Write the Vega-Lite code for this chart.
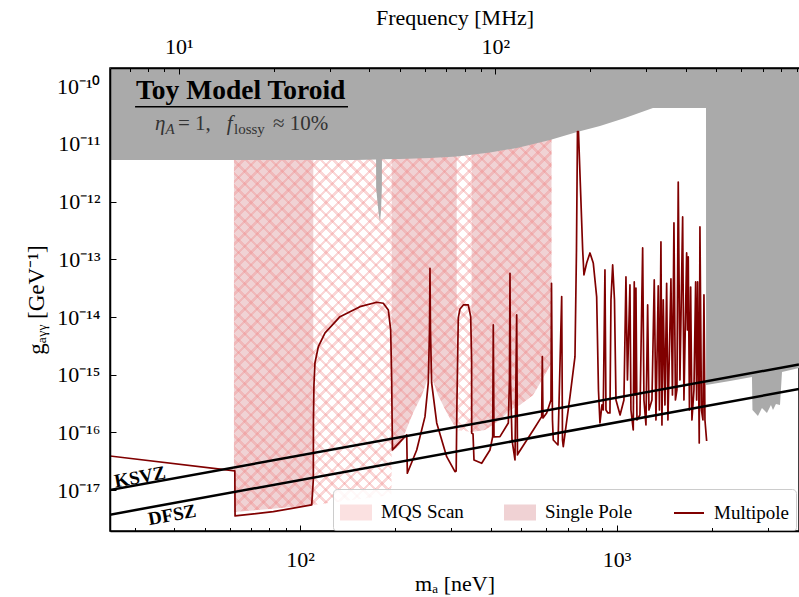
{
  "$schema": "https://vega.github.io/schema/vega-lite/v6.json",
  "width": 689,
  "height": 463,
  "autosize": {"type": "none"},
  "padding": {"left": 110, "top": 68, "right": 0, "bottom": 66},
  "background": "white",
  "config": {
    "view": {"stroke": "black", "strokeWidth": 1.5},
    "font": "Liberation Serif",
    "axis": {"grid": false, "labelFont": "Liberation Serif", "titleFont": "Liberation Serif", "labelColor": "black", "titleColor": "black", "tickColor": "black", "domainColor": "black", "labelFontSize": 22, "titleFontSize": 22, "titleFontWeight": "normal", "tickWidth": 1, "domainWidth": 1.5}
  },
  "datasets": {
    "gray": [{"m":25,"lo":5.28e-12},{"m":149.1,"lo":5.28e-12},{"m":173.8,"lo":5.39e-12},{"m":173.9,"lo":1.73e-12},{"m":176.9,"lo":6.63e-13},{"m":178.8,"lo":4.45e-13},{"m":180.1,"lo":6.63e-13},{"m":181.3,"lo":1.73e-12},{"m":181.4,"lo":5.43e-12},{"m":206.9,"lo":5.5e-12},{"m":257.3,"lo":5.72e-12},{"m":313.1,"lo":6.07e-12},{"m":398.1,"lo":7.12e-12},{"m":484.6,"lo":8.52e-12},{"m":616.1,"lo":1.173e-11},{"m":749.8,"lo":1.615e-11},{"m":886.2,"lo":2.05e-11},{"m":1063,"lo":2.82e-11},{"m":1303,"lo":4.21e-11},{"m":1917,"lo":4.21e-11},{"m":1918,"lo":6.65e-16},{"m":2282,"lo":7.81e-16},{"m":2678,"lo":9.16e-16},{"m":2688,"lo":2.45e-16},{"m":2797,"lo":1.93e-16},{"m":2880,"lo":2.66e-16},{"m":2987,"lo":2.18e-16},{"m":3075,"lo":3.0e-16},{"m":3121,"lo":2.45e-16},{"m":3189,"lo":3.12e-16},{"m":3284,"lo":3.0e-16},{"m":3332,"lo":1.118e-15},{"m":3771,"lo":1.312e-15}],
    "mqs": [{"m":61.8,"lo":4.19e-18},{"m":110.1,"lo":5.54e-18},{"m":194.4,"lo":8.26e-18},{"m":194.7,"lo":4.59e-17},{"m":206.9,"lo":6.07e-17},{"m":227.4,"lo":2.18e-16},{"m":242.7,"lo":4.47e-16},{"m":257.3,"lo":1.118e-15},{"m":272.7,"lo":4.47e-16},{"m":291.2,"lo":2.18e-16},{"m":312.5,"lo":1.105e-16},{"m":348.4,"lo":1.02e-16},{"m":383.9,"lo":1.105e-16},{"m":428.1,"lo":1.647e-16},{"m":460.5,"lo":2.45e-16},{"m":495.3,"lo":3.0e-16},{"m":544.4,"lo":4.47e-16},{"m":581.3,"lo":8.13e-16},{"m":622.9,"lo":1.6e-15}],
    "sp": [{"seg":1,"m":61.8,"lo":4.19e-18},{"seg":1,"m":80.34,"lo":4.72e-18},{"seg":1,"m":110.1,"lo":5.54e-18},
           {"seg":2,"m":194.7,"lo":4.59e-17},{"seg":2,"m":206.9,"lo":6.07e-17},{"seg":2,"m":227.4,"lo":2.18e-16},{"seg":2,"m":242.7,"lo":4.47e-16},{"seg":2,"m":257.3,"lo":1.118e-15},{"seg":2,"m":272.7,"lo":4.47e-16},{"seg":2,"m":291.2,"lo":2.18e-16},{"seg":2,"m":312.5,"lo":1.105e-16},
           {"seg":3,"m":348.4,"lo":1.02e-16},{"seg":3,"m":383.9,"lo":1.105e-16},{"seg":3,"m":428.1,"lo":1.647e-16},{"seg":3,"m":460.5,"lo":2.45e-16},{"seg":3,"m":495.3,"lo":3.0e-16},{"seg":3,"m":544.4,"lo":4.47e-16},{"seg":3,"m":581.3,"lo":8.13e-16},{"seg":3,"m":622.9,"lo":1.6e-15}],
    "multi": [{"m":25.0,"g":3.914e-17},{"m":62.2,"g":2.152e-17},{"m":62.3,"g":3.572e-18},{"m":82.29,"g":4.24e-18},{"m":108.8,"g":5.54e-18},{"m":110.1,"g":1.502e-17},{"m":110.2,"g":1.647e-16},{"m":110.6,"g":6.65e-16},{"m":111.4,"g":1.601e-15},{"m":114.2,"g":3.069e-15},{"m":119.9,"g":5.302e-15},{"m":133.7,"g":1.016e-14},{"m":154.6,"g":1.514e-14},{"m":174.6,"g":1.805e-14},{"m":183.2,"g":1.735e-14},{"m":190.0,"g":1.327e-14},{"m":193.3,"g":5.975e-15},{"m":194.7,"g":8.13e-16},{"m":195.8,"g":4.974e-17},{"m":217.2,"g":9.05e-17},{"m":218.2,"g":1.963e-17},{"m":233.6,"g":4.974e-17},{"m":248.1,"g":1.879e-16},{"m":254.1,"g":7.21e-16},{"m":256.4,"g":5.975e-15},{"m":257.3,"g":7.01e-14},{"m":258.2,"g":5.975e-15},{"m":260.4,"g":7.21e-16},{"m":270.2,"g":1.461e-16},{"m":290.5,"g":3.807e-17},{"m":308.6,"g":2.092e-17},{"m":311.3,"g":2.152e-17},{"m":313.1,"g":3.659e-16},{"m":316.1,"g":9.647e-15},{"m":320.1,"g":1.382e-14},{"m":327.9,"g":1.621e-14},{"m":340.0,"g":1.621e-14},{"m":346.0,"g":1.016e-14},{"m":348.3,"g":1.805e-15},{"m":348.5,"g":9.8e-17},{"m":351.9,"g":9.42e-17},{"m":354.4,"g":3.337e-17},{"m":374.8,"g":2.925e-17},{"m":398.1,"g":4.974e-17},{"m":406.0,"g":8.46e-17},{"m":407.8,"g":7.3e-15},{"m":409.9,"g":8.36e-17},{"m":428.1,"g":8.46e-17},{"m":454.9,"g":1.461e-16},{"m":458.8,"g":8.13e-16},{"m":460.5,"g":5.74e-14},{"m":462.2,"g":8.13e-16},{"m":467.3,"g":7.41e-17},{"m":477.5,"g":3.337e-17},{"m":483.5,"g":1.087e-14},{"m":486.3,"g":4.07e-17},{"m":489.2,"g":4.36e-17},{"m":545.6,"g":1.105e-16},{"m":580.0,"g":1.879e-16},{"m":582.6,"g":2.06e-15},{"m":585.5,"g":1.784e-16},{"m":601.4,"g":2.18e-16},{"m":620.5,"g":3.659e-16},{"m":622.9,"g":3.85e-14},{"m":627.3,"g":1.647e-16},{"m":631.0,"g":7.41e-17},{"m":652.9,"g":6.07e-17},{"m":670.8,"g":2.26e-14},{"m":674.7,"g":7.41e-17},{"m":678.6,"g":5.67e-17},{"m":712.5,"g":4.17e-16},{"m":738.9,"g":2.06e-15},{"m":747.0,"g":1.455e-13},{"m":752.4,"g":1.634e-11},{"m":757.9,"g":1.634e-11},{"m":781.5,"g":1.455e-13},{"m":788.8,"g":5.37e-14},{"m":804.5,"g":8.66e-14},{"m":824.0,"g":1.291e-13},{"m":844.0,"g":8.66e-14},{"m":865.2,"g":2.23e-14},{"m":876.6,"g":5.45e-16},{"m":886.2,"g":1.461e-16},{"m":899.2,"g":3.0e-16},{"m":907.7,"g":2.45e-16},{"m":919.0,"g":6.55e-14},{"m":925.7,"g":2.45e-16},{"m":939.3,"g":2.18e-16},{"m":953.0,"g":2.18e-16},{"m":960.1,"g":1.98e-14},{"m":972.0,"g":8.0e-14},{"m":984.9,"g":1.98e-14},{"m":995.7,"g":3.659e-16},{"m":1025.8,"g":2.01e-16},{"m":1055.0,"g":3.659e-16},{"m":1070.7,"g":4.95e-14},{"m":1082.4,"g":8.13e-16},{"m":1102.3,"g":3.6e-14},{"m":1110.3,"g":2.45e-16},{"m":1129.1,"g":1.105e-16},{"m":1137.3,"g":4.06e-14},{"m":1144.8,"g":4.47e-16},{"m":1151.5,"g":3.19e-14},{"m":1159.9,"g":1.647e-16},{"m":1185.5,"g":2.01e-16},{"m":1209.0,"g":1.576e-13},{"m":1220.5,"g":3.659e-16},{"m":1238.4,"g":1.349e-16},{"m":1253.8,"g":1.621e-14},{"m":1265.7,"g":2.45e-16},{"m":1293.6,"g":3.659e-16},{"m":1315.4,"g":4.4e-14},{"m":1331.8,"g":1.647e-16},{"m":1354.2,"g":3.46e-14},{"m":1366.1,"g":2.45e-16},{"m":1381.1,"g":2.0e-13},{"m":1391.2,"g":1.349e-16},{"m":1404.4,"g":1.98e-14},{"m":1421.9,"g":3.0e-16},{"m":1439.6,"g":3.85e-14},{"m":1453.2,"g":1.647e-16},{"m":1485.3,"g":4.57e-14},{"m":1501.6,"g":4.47e-16},{"m":1518.1,"g":4.27e-13},{"m":1534.7,"g":3.659e-16},{"m":1551.6,"g":5.45e-16},{"m":1566.3,"g":2.19e-12},{"m":1585.8,"g":8.13e-16},{"m":1617.3,"g":5.43e-13},{"m":1632.7,"g":3.659e-16},{"m":1665.1,"g":1.291e-13},{"m":1674.8,"g":5.98e-15},{"m":1684.5,"g":1.1e-13},{"m":1699.3,"g":2.45e-16},{"m":1714.2,"g":3.32e-14},{"m":1730.5,"g":1.647e-16},{"m":1755.9,"g":5.45e-16},{"m":1777.8,"g":4.06e-14},{"m":1790.7,"g":3.659e-16},{"m":1803.8,"g":4.06e-14},{"m":1824.9,"g":6.58e-17},{"m":1834.2,"g":3.64e-13},{"m":1854.4,"g":2.45e-16},{"m":1874.7,"g":1.647e-16},{"m":1888.4,"g":2.42e-14},{"m":1902.2,"g":1.647e-16},{"m":1925.9,"g":7.12e-17}],
    "axion": [{"model":"KSVZ","m":25,"g":1.0e-17},{"model":"KSVZ","m":3771,"g":1.508e-15},{"model":"DFSZ","m":25,"g":3.75e-18},{"model":"DFSZ","m":3771,"g":5.65e-16}],
    "lbl": [{"t":"KSVZ","m":31.2,"g":1.69e-17},{"t":"DFSZ","m":39.4,"g":3.72e-18}],
    "uline": [{"m":30.1,"m2":141.7,"g":4.43e-11}],
    "ann": [{"kind":"title","m":30.3,"g":6.03e-11,"t":"Toy Model Toroid"},{"kind":"it","m":34.79,"g":1.748e-11,"t":"η"},{"kind":"subit","m":37.56,"g":1.49e-11,"t":"A"},{"kind":"rm","m":41.14,"g":1.748e-11,"t":"= 1,"},{"kind":"it","m":58.63,"g":1.748e-11,"t":"f"},{"kind":"subrm","m":61.82,"g":1.49e-11,"t":"lossy"},{"kind":"rm","m":82.11,"g":1.748e-11,"t":"≈ 10%"}]
  },
  "layer": [
    {
      "data": {"name": "sp"},
      "mark": {"type": "area", "clip": true, "opacity": 1},
      "encoding": {
        "x": {"field": "m", "type": "quantitative", "scale": {"type": "log", "domain": [25.08, 3771], "nice": false},
              "axis": {"orient": "top", "values": [41.357, 413.57], "labelExpr": "datum.value < 100 ? '10¹' : '10²'", "tickSize": -6, "labelPadding": 16, "domain": true, "title": "Frequency [MHz]", "titleFont": "Liberation Serif", "labelFont": "Liberation Serif", "titlePadding": 6, "zindex": 1}},
        "y": {"field": "lo", "type": "quantitative", "scale": {"type": "log", "domain": [1.96e-18, 2.07e-10], "nice": false}, "axis": null},
        "y2": {"datum": 2.07e-10},
        "detail": {"field": "seg", "type": "nominal"},
        "color": {"datum": "Single Pole", "type": "nominal",
                  "scale": {"domain": ["MQS Scan", "Single Pole", "Multipole"], "range": ["#fbe1e1", "#f0d2d4", "#800000"]},
                  "legend": {
                    "title": null, "orient": "none", "legendX": 223, "legendY": 421, "direction": "horizontal", "columns": 3,
                    "columnPadding": 37, "padding": 7, "fillColor": "rgba(255,255,255,0.85)", "strokeColor": "#cccccc", "cornerRadius": 4,
                    "symbolType": {"expr": "datum.value === 'Multipole' ? 'M-1,0H1' : 'M-1,-0.47H1V0.47H-1Z'"},
                    "symbolSize": 900, "symbolOpacity": 1, "symbolStrokeWidth": 2,
                    "labelFont": "Liberation Serif", "labelFontSize": 19, "labelColor": "black", "labelOffset": 9
                  }}
      }
    },
    {
      "data": {"name": "mqs"},
      "mark": {"type": "area", "clip": true, "opacity": 1, "fill": {"gradient": "linear", "x1": 0, "y1": 0, "x2": 0.8119, "y2": 1.1347, "stops": [
        {"offset":0,"color":"rgba(240,130,130,0.32)"},{"offset":0.0048,"color":"rgba(240,130,130,0.32)"},{"offset":0.0048,"color":"rgba(240,130,130,0)"},{"offset":0.0164,"color":"rgba(240,130,130,0)"},
        {"offset":0.0164,"color":"rgba(240,130,130,0.32)"},{"offset":0.0212,"color":"rgba(240,130,130,0.32)"},{"offset":0.0212,"color":"rgba(240,130,130,0)"},{"offset":0.0328,"color":"rgba(240,130,130,0)"},
        {"offset":0.0328,"color":"rgba(240,130,130,0.32)"},{"offset":0.0376,"color":"rgba(240,130,130,0.32)"},{"offset":0.0376,"color":"rgba(240,130,130,0)"},{"offset":0.0492,"color":"rgba(240,130,130,0)"},
        {"offset":0.0492,"color":"rgba(240,130,130,0.32)"},{"offset":0.054,"color":"rgba(240,130,130,0.32)"},{"offset":0.054,"color":"rgba(240,130,130,0)"},{"offset":0.0656,"color":"rgba(240,130,130,0)"},
        {"offset":0.0656,"color":"rgba(240,130,130,0.32)"},{"offset":0.0704,"color":"rgba(240,130,130,0.32)"},{"offset":0.0704,"color":"rgba(240,130,130,0)"},{"offset":0.082,"color":"rgba(240,130,130,0)"},
        {"offset":0.082,"color":"rgba(240,130,130,0.32)"},{"offset":0.0868,"color":"rgba(240,130,130,0.32)"},{"offset":0.0868,"color":"rgba(240,130,130,0)"},{"offset":0.0984,"color":"rgba(240,130,130,0)"},
        {"offset":0.0984,"color":"rgba(240,130,130,0.32)"},{"offset":0.1032,"color":"rgba(240,130,130,0.32)"},{"offset":0.1032,"color":"rgba(240,130,130,0)"},{"offset":0.1148,"color":"rgba(240,130,130,0)"},
        {"offset":0.1148,"color":"rgba(240,130,130,0.32)"},{"offset":0.1196,"color":"rgba(240,130,130,0.32)"},{"offset":0.1196,"color":"rgba(240,130,130,0)"},{"offset":0.1311,"color":"rgba(240,130,130,0)"},
        {"offset":0.1311,"color":"rgba(240,130,130,0.32)"},{"offset":0.1359,"color":"rgba(240,130,130,0.32)"},{"offset":0.1359,"color":"rgba(240,130,130,0)"},{"offset":0.1475,"color":"rgba(240,130,130,0)"},
        {"offset":0.1475,"color":"rgba(240,130,130,0.32)"},{"offset":0.1523,"color":"rgba(240,130,130,0.32)"},{"offset":0.1523,"color":"rgba(240,130,130,0)"},{"offset":0.1639,"color":"rgba(240,130,130,0)"},
        {"offset":0.1639,"color":"rgba(240,130,130,0.32)"},{"offset":0.1687,"color":"rgba(240,130,130,0.32)"},{"offset":0.1687,"color":"rgba(240,130,130,0)"},{"offset":0.1803,"color":"rgba(240,130,130,0)"},
        {"offset":0.1803,"color":"rgba(240,130,130,0.32)"},{"offset":0.1851,"color":"rgba(240,130,130,0.32)"},{"offset":0.1851,"color":"rgba(240,130,130,0)"},{"offset":0.1967,"color":"rgba(240,130,130,0)"},
        {"offset":0.1967,"color":"rgba(240,130,130,0.32)"},{"offset":0.2015,"color":"rgba(240,130,130,0.32)"},{"offset":0.2015,"color":"rgba(240,130,130,0)"},{"offset":0.2131,"color":"rgba(240,130,130,0)"},
        {"offset":0.2131,"color":"rgba(240,130,130,0.32)"},{"offset":0.2179,"color":"rgba(240,130,130,0.32)"},{"offset":0.2179,"color":"rgba(240,130,130,0)"},{"offset":0.2295,"color":"rgba(240,130,130,0)"},
        {"offset":0.2295,"color":"rgba(240,130,130,0.32)"},{"offset":0.2343,"color":"rgba(240,130,130,0.32)"},{"offset":0.2343,"color":"rgba(240,130,130,0)"},{"offset":0.2459,"color":"rgba(240,130,130,0)"},
        {"offset":0.2459,"color":"rgba(240,130,130,0.32)"},{"offset":0.2507,"color":"rgba(240,130,130,0.32)"},{"offset":0.2507,"color":"rgba(240,130,130,0)"},{"offset":0.2623,"color":"rgba(240,130,130,0)"},
        {"offset":0.2623,"color":"rgba(240,130,130,0.32)"},{"offset":0.2671,"color":"rgba(240,130,130,0.32)"},{"offset":0.2671,"color":"rgba(240,130,130,0)"},{"offset":0.2787,"color":"rgba(240,130,130,0)"},
        {"offset":0.2787,"color":"rgba(240,130,130,0.32)"},{"offset":0.2835,"color":"rgba(240,130,130,0.32)"},{"offset":0.2835,"color":"rgba(240,130,130,0)"},{"offset":0.2951,"color":"rgba(240,130,130,0)"},
        {"offset":0.2951,"color":"rgba(240,130,130,0.32)"},{"offset":0.2999,"color":"rgba(240,130,130,0.32)"},{"offset":0.2999,"color":"rgba(240,130,130,0)"},{"offset":0.3115,"color":"rgba(240,130,130,0)"},
        {"offset":0.3115,"color":"rgba(240,130,130,0.32)"},{"offset":0.3163,"color":"rgba(240,130,130,0.32)"},{"offset":0.3163,"color":"rgba(240,130,130,0)"},{"offset":0.3279,"color":"rgba(240,130,130,0)"},
        {"offset":0.3279,"color":"rgba(240,130,130,0.32)"},{"offset":0.3327,"color":"rgba(240,130,130,0.32)"},{"offset":0.3327,"color":"rgba(240,130,130,0)"},{"offset":0.3443,"color":"rgba(240,130,130,0)"},
        {"offset":0.3443,"color":"rgba(240,130,130,0.32)"},{"offset":0.3491,"color":"rgba(240,130,130,0.32)"},{"offset":0.3491,"color":"rgba(240,130,130,0)"},{"offset":0.3607,"color":"rgba(240,130,130,0)"},
        {"offset":0.3607,"color":"rgba(240,130,130,0.32)"},{"offset":0.3655,"color":"rgba(240,130,130,0.32)"},{"offset":0.3655,"color":"rgba(240,130,130,0)"},{"offset":0.377,"color":"rgba(240,130,130,0)"},
        {"offset":0.377,"color":"rgba(240,130,130,0.32)"},{"offset":0.3818,"color":"rgba(240,130,130,0.32)"},{"offset":0.3818,"color":"rgba(240,130,130,0)"},{"offset":0.3934,"color":"rgba(240,130,130,0)"},
        {"offset":0.3934,"color":"rgba(240,130,130,0.32)"},{"offset":0.3982,"color":"rgba(240,130,130,0.32)"},{"offset":0.3982,"color":"rgba(240,130,130,0)"},{"offset":0.4098,"color":"rgba(240,130,130,0)"},
        {"offset":0.4098,"color":"rgba(240,130,130,0.32)"},{"offset":0.4146,"color":"rgba(240,130,130,0.32)"},{"offset":0.4146,"color":"rgba(240,130,130,0)"},{"offset":0.4262,"color":"rgba(240,130,130,0)"},
        {"offset":0.4262,"color":"rgba(240,130,130,0.32)"},{"offset":0.431,"color":"rgba(240,130,130,0.32)"},{"offset":0.431,"color":"rgba(240,130,130,0)"},{"offset":0.4426,"color":"rgba(240,130,130,0)"},
        {"offset":0.4426,"color":"rgba(240,130,130,0.32)"},{"offset":0.4474,"color":"rgba(240,130,130,0.32)"},{"offset":0.4474,"color":"rgba(240,130,130,0)"},{"offset":0.459,"color":"rgba(240,130,130,0)"},
        {"offset":0.459,"color":"rgba(240,130,130,0.32)"},{"offset":0.4638,"color":"rgba(240,130,130,0.32)"},{"offset":0.4638,"color":"rgba(240,130,130,0)"},{"offset":0.4754,"color":"rgba(240,130,130,0)"},
        {"offset":0.4754,"color":"rgba(240,130,130,0.32)"},{"offset":0.4802,"color":"rgba(240,130,130,0.32)"},{"offset":0.4802,"color":"rgba(240,130,130,0)"},{"offset":0.4918,"color":"rgba(240,130,130,0)"},
        {"offset":0.4918,"color":"rgba(240,130,130,0.32)"},{"offset":0.4966,"color":"rgba(240,130,130,0.32)"},{"offset":0.4966,"color":"rgba(240,130,130,0)"},{"offset":0.5082,"color":"rgba(240,130,130,0)"},
        {"offset":0.5082,"color":"rgba(240,130,130,0.32)"},{"offset":0.513,"color":"rgba(240,130,130,0.32)"},{"offset":0.513,"color":"rgba(240,130,130,0)"},{"offset":0.5246,"color":"rgba(240,130,130,0)"},
        {"offset":0.5246,"color":"rgba(240,130,130,0.32)"},{"offset":0.5294,"color":"rgba(240,130,130,0.32)"},{"offset":0.5294,"color":"rgba(240,130,130,0)"},{"offset":0.541,"color":"rgba(240,130,130,0)"},
        {"offset":0.541,"color":"rgba(240,130,130,0.32)"},{"offset":0.5458,"color":"rgba(240,130,130,0.32)"},{"offset":0.5458,"color":"rgba(240,130,130,0)"},{"offset":0.5574,"color":"rgba(240,130,130,0)"},
        {"offset":0.5574,"color":"rgba(240,130,130,0.32)"},{"offset":0.5622,"color":"rgba(240,130,130,0.32)"},{"offset":0.5622,"color":"rgba(240,130,130,0)"},{"offset":0.5738,"color":"rgba(240,130,130,0)"},
        {"offset":0.5738,"color":"rgba(240,130,130,0.32)"},{"offset":0.5786,"color":"rgba(240,130,130,0.32)"},{"offset":0.5786,"color":"rgba(240,130,130,0)"},{"offset":0.5902,"color":"rgba(240,130,130,0)"},
        {"offset":0.5902,"color":"rgba(240,130,130,0.32)"},{"offset":0.595,"color":"rgba(240,130,130,0.32)"},{"offset":0.595,"color":"rgba(240,130,130,0)"},{"offset":0.6066,"color":"rgba(240,130,130,0)"},
        {"offset":0.6066,"color":"rgba(240,130,130,0.32)"},{"offset":0.6114,"color":"rgba(240,130,130,0.32)"},{"offset":0.6114,"color":"rgba(240,130,130,0)"},{"offset":0.623,"color":"rgba(240,130,130,0)"},
        {"offset":0.623,"color":"rgba(240,130,130,0.32)"},{"offset":0.6278,"color":"rgba(240,130,130,0.32)"},{"offset":0.6278,"color":"rgba(240,130,130,0)"},{"offset":0.6393,"color":"rgba(240,130,130,0)"},
        {"offset":0.6393,"color":"rgba(240,130,130,0.32)"},{"offset":0.6441,"color":"rgba(240,130,130,0.32)"},{"offset":0.6441,"color":"rgba(240,130,130,0)"},{"offset":0.6557,"color":"rgba(240,130,130,0)"},
        {"offset":0.6557,"color":"rgba(240,130,130,0.32)"},{"offset":0.6605,"color":"rgba(240,130,130,0.32)"},{"offset":0.6605,"color":"rgba(240,130,130,0)"},{"offset":0.6721,"color":"rgba(240,130,130,0)"},
        {"offset":0.6721,"color":"rgba(240,130,130,0.32)"},{"offset":0.6769,"color":"rgba(240,130,130,0.32)"},{"offset":0.6769,"color":"rgba(240,130,130,0)"},{"offset":0.6885,"color":"rgba(240,130,130,0)"},
        {"offset":0.6885,"color":"rgba(240,130,130,0.32)"},{"offset":0.6933,"color":"rgba(240,130,130,0.32)"},{"offset":0.6933,"color":"rgba(240,130,130,0)"},{"offset":0.7049,"color":"rgba(240,130,130,0)"},
        {"offset":0.7049,"color":"rgba(240,130,130,0.32)"},{"offset":0.7097,"color":"rgba(240,130,130,0.32)"},{"offset":0.7097,"color":"rgba(240,130,130,0)"},{"offset":0.7213,"color":"rgba(240,130,130,0)"},
        {"offset":0.7213,"color":"rgba(240,130,130,0.32)"},{"offset":0.7261,"color":"rgba(240,130,130,0.32)"},{"offset":0.7261,"color":"rgba(240,130,130,0)"},{"offset":0.7377,"color":"rgba(240,130,130,0)"},
        {"offset":0.7377,"color":"rgba(240,130,130,0.32)"},{"offset":0.7425,"color":"rgba(240,130,130,0.32)"},{"offset":0.7425,"color":"rgba(240,130,130,0)"},{"offset":0.7541,"color":"rgba(240,130,130,0)"},
        {"offset":0.7541,"color":"rgba(240,130,130,0.32)"},{"offset":0.7589,"color":"rgba(240,130,130,0.32)"},{"offset":0.7589,"color":"rgba(240,130,130,0)"},{"offset":0.7705,"color":"rgba(240,130,130,0)"},
        {"offset":0.7705,"color":"rgba(240,130,130,0.32)"},{"offset":0.7753,"color":"rgba(240,130,130,0.32)"},{"offset":0.7753,"color":"rgba(240,130,130,0)"},{"offset":0.7869,"color":"rgba(240,130,130,0)"},
        {"offset":0.7869,"color":"rgba(240,130,130,0.32)"},{"offset":0.7917,"color":"rgba(240,130,130,0.32)"},{"offset":0.7917,"color":"rgba(240,130,130,0)"},{"offset":0.8033,"color":"rgba(240,130,130,0)"},
        {"offset":0.8033,"color":"rgba(240,130,130,0.32)"},{"offset":0.8081,"color":"rgba(240,130,130,0.32)"},{"offset":0.8081,"color":"rgba(240,130,130,0)"},{"offset":0.8197,"color":"rgba(240,130,130,0)"},
        {"offset":0.8197,"color":"rgba(240,130,130,0.32)"},{"offset":0.8245,"color":"rgba(240,130,130,0.32)"},{"offset":0.8245,"color":"rgba(240,130,130,0)"},{"offset":0.8361,"color":"rgba(240,130,130,0)"},
        {"offset":0.8361,"color":"rgba(240,130,130,0.32)"},{"offset":0.8409,"color":"rgba(240,130,130,0.32)"},{"offset":0.8409,"color":"rgba(240,130,130,0)"},{"offset":0.8525,"color":"rgba(240,130,130,0)"},
        {"offset":0.8525,"color":"rgba(240,130,130,0.32)"},{"offset":0.8573,"color":"rgba(240,130,130,0.32)"},{"offset":0.8573,"color":"rgba(240,130,130,0)"},{"offset":0.8689,"color":"rgba(240,130,130,0)"},
        {"offset":0.8689,"color":"rgba(240,130,130,0.32)"},{"offset":0.8737,"color":"rgba(240,130,130,0.32)"},{"offset":0.8737,"color":"rgba(240,130,130,0)"},{"offset":0.8852,"color":"rgba(240,130,130,0)"},
        {"offset":0.8852,"color":"rgba(240,130,130,0.32)"},{"offset":0.89,"color":"rgba(240,130,130,0.32)"},{"offset":0.89,"color":"rgba(240,130,130,0)"},{"offset":0.9016,"color":"rgba(240,130,130,0)"},
        {"offset":0.9016,"color":"rgba(240,130,130,0.32)"},{"offset":0.9064,"color":"rgba(240,130,130,0.32)"},{"offset":0.9064,"color":"rgba(240,130,130,0)"},{"offset":0.918,"color":"rgba(240,130,130,0)"},
        {"offset":0.918,"color":"rgba(240,130,130,0.32)"},{"offset":0.9228,"color":"rgba(240,130,130,0.32)"},{"offset":0.9228,"color":"rgba(240,130,130,0)"},{"offset":0.9344,"color":"rgba(240,130,130,0)"},
        {"offset":0.9344,"color":"rgba(240,130,130,0.32)"},{"offset":0.9392,"color":"rgba(240,130,130,0.32)"},{"offset":0.9392,"color":"rgba(240,130,130,0)"},{"offset":0.9508,"color":"rgba(240,130,130,0)"},
        {"offset":0.9508,"color":"rgba(240,130,130,0.32)"},{"offset":0.9556,"color":"rgba(240,130,130,0.32)"},{"offset":0.9556,"color":"rgba(240,130,130,0)"},{"offset":0.9672,"color":"rgba(240,130,130,0)"},
        {"offset":0.9672,"color":"rgba(240,130,130,0.32)"},{"offset":0.972,"color":"rgba(240,130,130,0.32)"},{"offset":0.972,"color":"rgba(240,130,130,0)"},{"offset":0.9836,"color":"rgba(240,130,130,0)"},
        {"offset":0.9836,"color":"rgba(240,130,130,0.32)"},{"offset":0.9884,"color":"rgba(240,130,130,0.32)"},{"offset":0.9884,"color":"rgba(240,130,130,0)"},{"offset":1,"color":"rgba(240,130,130,0)"}
      ]}},
      "encoding": {
        "x": {"field": "m", "type": "quantitative", "scale": {"type": "log", "domain": [25.08, 3771], "nice": false},
              "axis": {"orient": "bottom", "values": [30,40,50,60,70,80,90,200,300,400,500,600,700,800,900,2000,3000], "tickSize": -3.5, "labels": false, "domain": false, "title": null, "zindex": 1}},
        "y": {"field": "lo", "type": "quantitative", "scale": {"type": "log", "domain": [1.96e-18, 2.07e-10], "nice": false},
              "axis": {"orient": "left", "ticks": false, "labels": false, "domain": true, "title": null, "zindex": 1}},
        "y2": {"datum": 2.07e-10}
      }
    },
    {
      "data": {"name": "mqs"},
      "mark": {"type": "area", "clip": true, "opacity": 1, "fill": {"gradient": "linear", "x1": 0, "y1": 1, "x2": 0.8119, "y2": -0.1347, "stops": [
        {"offset":0,"color":"rgba(240,130,130,0.32)"},{"offset":0.0048,"color":"rgba(240,130,130,0.32)"},{"offset":0.0048,"color":"rgba(240,130,130,0)"},{"offset":0.0164,"color":"rgba(240,130,130,0)"},
        {"offset":0.0164,"color":"rgba(240,130,130,0.32)"},{"offset":0.0212,"color":"rgba(240,130,130,0.32)"},{"offset":0.0212,"color":"rgba(240,130,130,0)"},{"offset":0.0328,"color":"rgba(240,130,130,0)"},
        {"offset":0.0328,"color":"rgba(240,130,130,0.32)"},{"offset":0.0376,"color":"rgba(240,130,130,0.32)"},{"offset":0.0376,"color":"rgba(240,130,130,0)"},{"offset":0.0492,"color":"rgba(240,130,130,0)"},
        {"offset":0.0492,"color":"rgba(240,130,130,0.32)"},{"offset":0.054,"color":"rgba(240,130,130,0.32)"},{"offset":0.054,"color":"rgba(240,130,130,0)"},{"offset":0.0656,"color":"rgba(240,130,130,0)"},
        {"offset":0.0656,"color":"rgba(240,130,130,0.32)"},{"offset":0.0704,"color":"rgba(240,130,130,0.32)"},{"offset":0.0704,"color":"rgba(240,130,130,0)"},{"offset":0.082,"color":"rgba(240,130,130,0)"},
        {"offset":0.082,"color":"rgba(240,130,130,0.32)"},{"offset":0.0868,"color":"rgba(240,130,130,0.32)"},{"offset":0.0868,"color":"rgba(240,130,130,0)"},{"offset":0.0984,"color":"rgba(240,130,130,0)"},
        {"offset":0.0984,"color":"rgba(240,130,130,0.32)"},{"offset":0.1032,"color":"rgba(240,130,130,0.32)"},{"offset":0.1032,"color":"rgba(240,130,130,0)"},{"offset":0.1148,"color":"rgba(240,130,130,0)"},
        {"offset":0.1148,"color":"rgba(240,130,130,0.32)"},{"offset":0.1196,"color":"rgba(240,130,130,0.32)"},{"offset":0.1196,"color":"rgba(240,130,130,0)"},{"offset":0.1311,"color":"rgba(240,130,130,0)"},
        {"offset":0.1311,"color":"rgba(240,130,130,0.32)"},{"offset":0.1359,"color":"rgba(240,130,130,0.32)"},{"offset":0.1359,"color":"rgba(240,130,130,0)"},{"offset":0.1475,"color":"rgba(240,130,130,0)"},
        {"offset":0.1475,"color":"rgba(240,130,130,0.32)"},{"offset":0.1523,"color":"rgba(240,130,130,0.32)"},{"offset":0.1523,"color":"rgba(240,130,130,0)"},{"offset":0.1639,"color":"rgba(240,130,130,0)"},
        {"offset":0.1639,"color":"rgba(240,130,130,0.32)"},{"offset":0.1687,"color":"rgba(240,130,130,0.32)"},{"offset":0.1687,"color":"rgba(240,130,130,0)"},{"offset":0.1803,"color":"rgba(240,130,130,0)"},
        {"offset":0.1803,"color":"rgba(240,130,130,0.32)"},{"offset":0.1851,"color":"rgba(240,130,130,0.32)"},{"offset":0.1851,"color":"rgba(240,130,130,0)"},{"offset":0.1967,"color":"rgba(240,130,130,0)"},
        {"offset":0.1967,"color":"rgba(240,130,130,0.32)"},{"offset":0.2015,"color":"rgba(240,130,130,0.32)"},{"offset":0.2015,"color":"rgba(240,130,130,0)"},{"offset":0.2131,"color":"rgba(240,130,130,0)"},
        {"offset":0.2131,"color":"rgba(240,130,130,0.32)"},{"offset":0.2179,"color":"rgba(240,130,130,0.32)"},{"offset":0.2179,"color":"rgba(240,130,130,0)"},{"offset":0.2295,"color":"rgba(240,130,130,0)"},
        {"offset":0.2295,"color":"rgba(240,130,130,0.32)"},{"offset":0.2343,"color":"rgba(240,130,130,0.32)"},{"offset":0.2343,"color":"rgba(240,130,130,0)"},{"offset":0.2459,"color":"rgba(240,130,130,0)"},
        {"offset":0.2459,"color":"rgba(240,130,130,0.32)"},{"offset":0.2507,"color":"rgba(240,130,130,0.32)"},{"offset":0.2507,"color":"rgba(240,130,130,0)"},{"offset":0.2623,"color":"rgba(240,130,130,0)"},
        {"offset":0.2623,"color":"rgba(240,130,130,0.32)"},{"offset":0.2671,"color":"rgba(240,130,130,0.32)"},{"offset":0.2671,"color":"rgba(240,130,130,0)"},{"offset":0.2787,"color":"rgba(240,130,130,0)"},
        {"offset":0.2787,"color":"rgba(240,130,130,0.32)"},{"offset":0.2835,"color":"rgba(240,130,130,0.32)"},{"offset":0.2835,"color":"rgba(240,130,130,0)"},{"offset":0.2951,"color":"rgba(240,130,130,0)"},
        {"offset":0.2951,"color":"rgba(240,130,130,0.32)"},{"offset":0.2999,"color":"rgba(240,130,130,0.32)"},{"offset":0.2999,"color":"rgba(240,130,130,0)"},{"offset":0.3115,"color":"rgba(240,130,130,0)"},
        {"offset":0.3115,"color":"rgba(240,130,130,0.32)"},{"offset":0.3163,"color":"rgba(240,130,130,0.32)"},{"offset":0.3163,"color":"rgba(240,130,130,0)"},{"offset":0.3279,"color":"rgba(240,130,130,0)"},
        {"offset":0.3279,"color":"rgba(240,130,130,0.32)"},{"offset":0.3327,"color":"rgba(240,130,130,0.32)"},{"offset":0.3327,"color":"rgba(240,130,130,0)"},{"offset":0.3443,"color":"rgba(240,130,130,0)"},
        {"offset":0.3443,"color":"rgba(240,130,130,0.32)"},{"offset":0.3491,"color":"rgba(240,130,130,0.32)"},{"offset":0.3491,"color":"rgba(240,130,130,0)"},{"offset":0.3607,"color":"rgba(240,130,130,0)"},
        {"offset":0.3607,"color":"rgba(240,130,130,0.32)"},{"offset":0.3655,"color":"rgba(240,130,130,0.32)"},{"offset":0.3655,"color":"rgba(240,130,130,0)"},{"offset":0.377,"color":"rgba(240,130,130,0)"},
        {"offset":0.377,"color":"rgba(240,130,130,0.32)"},{"offset":0.3818,"color":"rgba(240,130,130,0.32)"},{"offset":0.3818,"color":"rgba(240,130,130,0)"},{"offset":0.3934,"color":"rgba(240,130,130,0)"},
        {"offset":0.3934,"color":"rgba(240,130,130,0.32)"},{"offset":0.3982,"color":"rgba(240,130,130,0.32)"},{"offset":0.3982,"color":"rgba(240,130,130,0)"},{"offset":0.4098,"color":"rgba(240,130,130,0)"},
        {"offset":0.4098,"color":"rgba(240,130,130,0.32)"},{"offset":0.4146,"color":"rgba(240,130,130,0.32)"},{"offset":0.4146,"color":"rgba(240,130,130,0)"},{"offset":0.4262,"color":"rgba(240,130,130,0)"},
        {"offset":0.4262,"color":"rgba(240,130,130,0.32)"},{"offset":0.431,"color":"rgba(240,130,130,0.32)"},{"offset":0.431,"color":"rgba(240,130,130,0)"},{"offset":0.4426,"color":"rgba(240,130,130,0)"},
        {"offset":0.4426,"color":"rgba(240,130,130,0.32)"},{"offset":0.4474,"color":"rgba(240,130,130,0.32)"},{"offset":0.4474,"color":"rgba(240,130,130,0)"},{"offset":0.459,"color":"rgba(240,130,130,0)"},
        {"offset":0.459,"color":"rgba(240,130,130,0.32)"},{"offset":0.4638,"color":"rgba(240,130,130,0.32)"},{"offset":0.4638,"color":"rgba(240,130,130,0)"},{"offset":0.4754,"color":"rgba(240,130,130,0)"},
        {"offset":0.4754,"color":"rgba(240,130,130,0.32)"},{"offset":0.4802,"color":"rgba(240,130,130,0.32)"},{"offset":0.4802,"color":"rgba(240,130,130,0)"},{"offset":0.4918,"color":"rgba(240,130,130,0)"},
        {"offset":0.4918,"color":"rgba(240,130,130,0.32)"},{"offset":0.4966,"color":"rgba(240,130,130,0.32)"},{"offset":0.4966,"color":"rgba(240,130,130,0)"},{"offset":0.5082,"color":"rgba(240,130,130,0)"},
        {"offset":0.5082,"color":"rgba(240,130,130,0.32)"},{"offset":0.513,"color":"rgba(240,130,130,0.32)"},{"offset":0.513,"color":"rgba(240,130,130,0)"},{"offset":0.5246,"color":"rgba(240,130,130,0)"},
        {"offset":0.5246,"color":"rgba(240,130,130,0.32)"},{"offset":0.5294,"color":"rgba(240,130,130,0.32)"},{"offset":0.5294,"color":"rgba(240,130,130,0)"},{"offset":0.541,"color":"rgba(240,130,130,0)"},
        {"offset":0.541,"color":"rgba(240,130,130,0.32)"},{"offset":0.5458,"color":"rgba(240,130,130,0.32)"},{"offset":0.5458,"color":"rgba(240,130,130,0)"},{"offset":0.5574,"color":"rgba(240,130,130,0)"},
        {"offset":0.5574,"color":"rgba(240,130,130,0.32)"},{"offset":0.5622,"color":"rgba(240,130,130,0.32)"},{"offset":0.5622,"color":"rgba(240,130,130,0)"},{"offset":0.5738,"color":"rgba(240,130,130,0)"},
        {"offset":0.5738,"color":"rgba(240,130,130,0.32)"},{"offset":0.5786,"color":"rgba(240,130,130,0.32)"},{"offset":0.5786,"color":"rgba(240,130,130,0)"},{"offset":0.5902,"color":"rgba(240,130,130,0)"},
        {"offset":0.5902,"color":"rgba(240,130,130,0.32)"},{"offset":0.595,"color":"rgba(240,130,130,0.32)"},{"offset":0.595,"color":"rgba(240,130,130,0)"},{"offset":0.6066,"color":"rgba(240,130,130,0)"},
        {"offset":0.6066,"color":"rgba(240,130,130,0.32)"},{"offset":0.6114,"color":"rgba(240,130,130,0.32)"},{"offset":0.6114,"color":"rgba(240,130,130,0)"},{"offset":0.623,"color":"rgba(240,130,130,0)"},
        {"offset":0.623,"color":"rgba(240,130,130,0.32)"},{"offset":0.6278,"color":"rgba(240,130,130,0.32)"},{"offset":0.6278,"color":"rgba(240,130,130,0)"},{"offset":0.6393,"color":"rgba(240,130,130,0)"},
        {"offset":0.6393,"color":"rgba(240,130,130,0.32)"},{"offset":0.6441,"color":"rgba(240,130,130,0.32)"},{"offset":0.6441,"color":"rgba(240,130,130,0)"},{"offset":0.6557,"color":"rgba(240,130,130,0)"},
        {"offset":0.6557,"color":"rgba(240,130,130,0.32)"},{"offset":0.6605,"color":"rgba(240,130,130,0.32)"},{"offset":0.6605,"color":"rgba(240,130,130,0)"},{"offset":0.6721,"color":"rgba(240,130,130,0)"},
        {"offset":0.6721,"color":"rgba(240,130,130,0.32)"},{"offset":0.6769,"color":"rgba(240,130,130,0.32)"},{"offset":0.6769,"color":"rgba(240,130,130,0)"},{"offset":0.6885,"color":"rgba(240,130,130,0)"},
        {"offset":0.6885,"color":"rgba(240,130,130,0.32)"},{"offset":0.6933,"color":"rgba(240,130,130,0.32)"},{"offset":0.6933,"color":"rgba(240,130,130,0)"},{"offset":0.7049,"color":"rgba(240,130,130,0)"},
        {"offset":0.7049,"color":"rgba(240,130,130,0.32)"},{"offset":0.7097,"color":"rgba(240,130,130,0.32)"},{"offset":0.7097,"color":"rgba(240,130,130,0)"},{"offset":0.7213,"color":"rgba(240,130,130,0)"},
        {"offset":0.7213,"color":"rgba(240,130,130,0.32)"},{"offset":0.7261,"color":"rgba(240,130,130,0.32)"},{"offset":0.7261,"color":"rgba(240,130,130,0)"},{"offset":0.7377,"color":"rgba(240,130,130,0)"},
        {"offset":0.7377,"color":"rgba(240,130,130,0.32)"},{"offset":0.7425,"color":"rgba(240,130,130,0.32)"},{"offset":0.7425,"color":"rgba(240,130,130,0)"},{"offset":0.7541,"color":"rgba(240,130,130,0)"},
        {"offset":0.7541,"color":"rgba(240,130,130,0.32)"},{"offset":0.7589,"color":"rgba(240,130,130,0.32)"},{"offset":0.7589,"color":"rgba(240,130,130,0)"},{"offset":0.7705,"color":"rgba(240,130,130,0)"},
        {"offset":0.7705,"color":"rgba(240,130,130,0.32)"},{"offset":0.7753,"color":"rgba(240,130,130,0.32)"},{"offset":0.7753,"color":"rgba(240,130,130,0)"},{"offset":0.7869,"color":"rgba(240,130,130,0)"},
        {"offset":0.7869,"color":"rgba(240,130,130,0.32)"},{"offset":0.7917,"color":"rgba(240,130,130,0.32)"},{"offset":0.7917,"color":"rgba(240,130,130,0)"},{"offset":0.8033,"color":"rgba(240,130,130,0)"},
        {"offset":0.8033,"color":"rgba(240,130,130,0.32)"},{"offset":0.8081,"color":"rgba(240,130,130,0.32)"},{"offset":0.8081,"color":"rgba(240,130,130,0)"},{"offset":0.8197,"color":"rgba(240,130,130,0)"},
        {"offset":0.8197,"color":"rgba(240,130,130,0.32)"},{"offset":0.8245,"color":"rgba(240,130,130,0.32)"},{"offset":0.8245,"color":"rgba(240,130,130,0)"},{"offset":0.8361,"color":"rgba(240,130,130,0)"},
        {"offset":0.8361,"color":"rgba(240,130,130,0.32)"},{"offset":0.8409,"color":"rgba(240,130,130,0.32)"},{"offset":0.8409,"color":"rgba(240,130,130,0)"},{"offset":0.8525,"color":"rgba(240,130,130,0)"},
        {"offset":0.8525,"color":"rgba(240,130,130,0.32)"},{"offset":0.8573,"color":"rgba(240,130,130,0.32)"},{"offset":0.8573,"color":"rgba(240,130,130,0)"},{"offset":0.8689,"color":"rgba(240,130,130,0)"},
        {"offset":0.8689,"color":"rgba(240,130,130,0.32)"},{"offset":0.8737,"color":"rgba(240,130,130,0.32)"},{"offset":0.8737,"color":"rgba(240,130,130,0)"},{"offset":0.8852,"color":"rgba(240,130,130,0)"},
        {"offset":0.8852,"color":"rgba(240,130,130,0.32)"},{"offset":0.89,"color":"rgba(240,130,130,0.32)"},{"offset":0.89,"color":"rgba(240,130,130,0)"},{"offset":0.9016,"color":"rgba(240,130,130,0)"},
        {"offset":0.9016,"color":"rgba(240,130,130,0.32)"},{"offset":0.9064,"color":"rgba(240,130,130,0.32)"},{"offset":0.9064,"color":"rgba(240,130,130,0)"},{"offset":0.918,"color":"rgba(240,130,130,0)"},
        {"offset":0.918,"color":"rgba(240,130,130,0.32)"},{"offset":0.9228,"color":"rgba(240,130,130,0.32)"},{"offset":0.9228,"color":"rgba(240,130,130,0)"},{"offset":0.9344,"color":"rgba(240,130,130,0)"},
        {"offset":0.9344,"color":"rgba(240,130,130,0.32)"},{"offset":0.9392,"color":"rgba(240,130,130,0.32)"},{"offset":0.9392,"color":"rgba(240,130,130,0)"},{"offset":0.9508,"color":"rgba(240,130,130,0)"},
        {"offset":0.9508,"color":"rgba(240,130,130,0.32)"},{"offset":0.9556,"color":"rgba(240,130,130,0.32)"},{"offset":0.9556,"color":"rgba(240,130,130,0)"},{"offset":0.9672,"color":"rgba(240,130,130,0)"},
        {"offset":0.9672,"color":"rgba(240,130,130,0.32)"},{"offset":0.972,"color":"rgba(240,130,130,0.32)"},{"offset":0.972,"color":"rgba(240,130,130,0)"},{"offset":0.9836,"color":"rgba(240,130,130,0)"},
        {"offset":0.9836,"color":"rgba(240,130,130,0.32)"},{"offset":0.9884,"color":"rgba(240,130,130,0.32)"},{"offset":0.9884,"color":"rgba(240,130,130,0)"},{"offset":1,"color":"rgba(240,130,130,0)"}
      ]}},
      "encoding": {
        "x": {"field": "m", "type": "quantitative", "scale": {"type": "log", "domain": [25.08, 3771], "nice": false}, "axis": null},
        "y": {"field": "lo", "type": "quantitative", "scale": {"type": "log", "domain": [1.96e-18, 2.07e-10], "nice": false}, "axis": null},
        "y2": {"datum": 2.07e-10}
      }
    },
    {
      "data": {"name": "gray"},
      "mark": {"type": "area", "clip": true, "color": "#aaaaaa", "opacity": 1},
      "encoding": {
        "x": {"field": "m", "type": "quantitative", "scale": {"type": "log", "domain": [25.08, 3771], "nice": false},
              "axis": {"orient": "bottom", "values": [100, 1000], "labelExpr": "datum.value < 500 ? '10²' : '10³'", "tickSize": -6, "labelPadding": 24, "domain": true, "title": "mₐ [neV]", "titleFont": "Liberation Serif", "titlePadding": 3, "zindex": 1}},
        "y": {"field": "lo", "type": "quantitative", "scale": {"type": "log", "domain": [1.96e-18, 2.07e-10], "nice": false},
              "axis": {"orient": "left", "values": [1e-17, 1e-16, 1e-15, 1e-14, 1e-13, 1e-12, 1e-11, 1e-10], "labelExpr": "'10⁻¹' + ['⁰','¹','²','³','⁴','⁵','⁶','⁷','⁸','⁹'][-round(log(datum.value)/LN10) - 10]", "tickSize": -6, "labelPadding": 16, "domain": false, "title": "gₐᵧᵧ [GeV⁻¹]", "titleFont": "Liberation Serif", "titleFontSize": 23, "titlePadding": 8, "zindex": 0}},
        "y2": {"datum": 2.07e-10}
      }
    },
    {
      "data": {"name": "multi"},
      "mark": {"type": "line", "clip": true, "strokeWidth": 1.7, "strokeJoin": "round"},
      "encoding": {
        "x": {"field": "m", "type": "quantitative", "scale": {"type": "log", "domain": [25.08, 3771], "nice": false},
              "axis": {"orient": "top", "values": [28.95, 33.09, 37.22, 82.71, 124.07, 165.43, 206.79, 248.14, 289.5, 330.86, 372.21, 827.14, 1240.7, 1654.3, 2067.9, 2481.4, 2895.0, 3308.6, 3722.1], "tickSize": -3.5, "labels": false, "domain": false, "title": null, "zindex": 1}},
        "y": {"field": "g", "type": "quantitative", "scale": {"type": "log", "domain": [1.96e-18, 2.07e-10], "nice": false}, "axis": null},
        "color": {"datum": "Multipole", "type": "nominal", "scale": {"domain": ["MQS Scan", "Single Pole", "Multipole"], "range": ["#fbe1e1", "#f0d2d4", "#800000"]}}
      }
    },
    {
      "data": {"name": "axion"},
      "mark": {"type": "line", "clip": true, "color": "black", "strokeWidth": 2.5},
      "encoding": {
        "x": {"field": "m", "type": "quantitative", "scale": {"type": "log", "domain": [25.08, 3771], "nice": false}, "axis": null},
        "y": {"field": "g", "type": "quantitative", "scale": {"type": "log", "domain": [1.96e-18, 2.07e-10], "nice": false}, "axis": null},
        "detail": {"field": "model", "type": "nominal"}
      }
    },
    {
      "data": {"name": "lbl"},
      "mark": {"type": "text", "angle": 349.8, "font": "Liberation Serif", "fontWeight": "bold", "fontSize": 19, "color": "black", "align": "center", "baseline": "middle"},
      "encoding": {
        "x": {"field": "m", "type": "quantitative", "scale": {"type": "log", "domain": [25.08, 3771], "nice": false}, "axis": null},
        "y": {"field": "g", "type": "quantitative", "scale": {"type": "log", "domain": [1.96e-18, 2.07e-10], "nice": false}, "axis": null},
        "text": {"field": "t"}
      }
    },
    {
      "data": {"name": "uline"},
      "mark": {"type": "rule", "color": "black", "strokeWidth": 1.5},
      "encoding": {
        "x": {"field": "m", "type": "quantitative", "scale": {"type": "log", "domain": [25.08, 3771], "nice": false}, "axis": null},
        "x2": {"field": "m2"},
        "y": {"field": "g", "type": "quantitative", "scale": {"type": "log", "domain": [1.96e-18, 2.07e-10], "nice": false}, "axis": null}
      }
    },
    {
      "data": {"name": "ann"},
      "transform": [{"filter": "datum.kind === 'title'"}],
      "mark": {"type": "text", "font": "Liberation Serif", "fontWeight": "bold", "fontSize": 27.5, "color": "black", "align": "left", "baseline": "alphabetic"},
      "encoding": {
        "x": {"field": "m", "type": "quantitative", "scale": {"type": "log", "domain": [25.08, 3771], "nice": false}, "axis": null},
        "y": {"field": "g", "type": "quantitative", "scale": {"type": "log", "domain": [1.96e-18, 2.07e-10], "nice": false}, "axis": null},
        "text": {"field": "t"}
      }
    },
    {
      "data": {"name": "ann"},
      "transform": [{"filter": "datum.kind === 'it'"}],
      "mark": {"type": "text", "font": "Liberation Serif", "fontStyle": "italic", "fontSize": 21, "color": "#333333", "align": "left", "baseline": "alphabetic"},
      "encoding": {
        "x": {"field": "m", "type": "quantitative", "scale": {"type": "log", "domain": [25.08, 3771], "nice": false}, "axis": null},
        "y": {"field": "g", "type": "quantitative", "scale": {"type": "log", "domain": [1.96e-18, 2.07e-10], "nice": false}, "axis": null},
        "text": {"field": "t"}
      }
    },
    {
      "data": {"name": "ann"},
      "transform": [{"filter": "datum.kind === 'rm'"}],
      "mark": {"type": "text", "font": "Liberation Serif", "fontSize": 21, "color": "#333333", "align": "left", "baseline": "alphabetic"},
      "encoding": {
        "x": {"field": "m", "type": "quantitative", "scale": {"type": "log", "domain": [25.08, 3771], "nice": false}, "axis": null},
        "y": {"field": "g", "type": "quantitative", "scale": {"type": "log", "domain": [1.96e-18, 2.07e-10], "nice": false}, "axis": null},
        "text": {"field": "t"}
      }
    },
    {
      "data": {"name": "ann"},
      "transform": [{"filter": "datum.kind === 'subit'"}],
      "mark": {"type": "text", "font": "Liberation Serif", "fontStyle": "italic", "fontSize": 15, "color": "#333333", "align": "left", "baseline": "alphabetic"},
      "encoding": {
        "x": {"field": "m", "type": "quantitative", "scale": {"type": "log", "domain": [25.08, 3771], "nice": false}, "axis": null},
        "y": {"field": "g", "type": "quantitative", "scale": {"type": "log", "domain": [1.96e-18, 2.07e-10], "nice": false}, "axis": null},
        "text": {"field": "t"}
      }
    },
    {
      "data": {"name": "ann"},
      "transform": [{"filter": "datum.kind === 'subrm'"}],
      "mark": {"type": "text", "font": "Liberation Serif", "fontSize": 15, "color": "#333333", "align": "left", "baseline": "alphabetic"},
      "encoding": {
        "x": {"field": "m", "type": "quantitative", "scale": {"type": "log", "domain": [25.08, 3771], "nice": false}, "axis": null},
        "y": {"field": "g", "type": "quantitative", "scale": {"type": "log", "domain": [1.96e-18, 2.07e-10], "nice": false}, "axis": null},
        "text": {"field": "t"}
      }
    }
  ],
  "resolve": {"axis": {"x": "independent", "y": "independent"}}
}
